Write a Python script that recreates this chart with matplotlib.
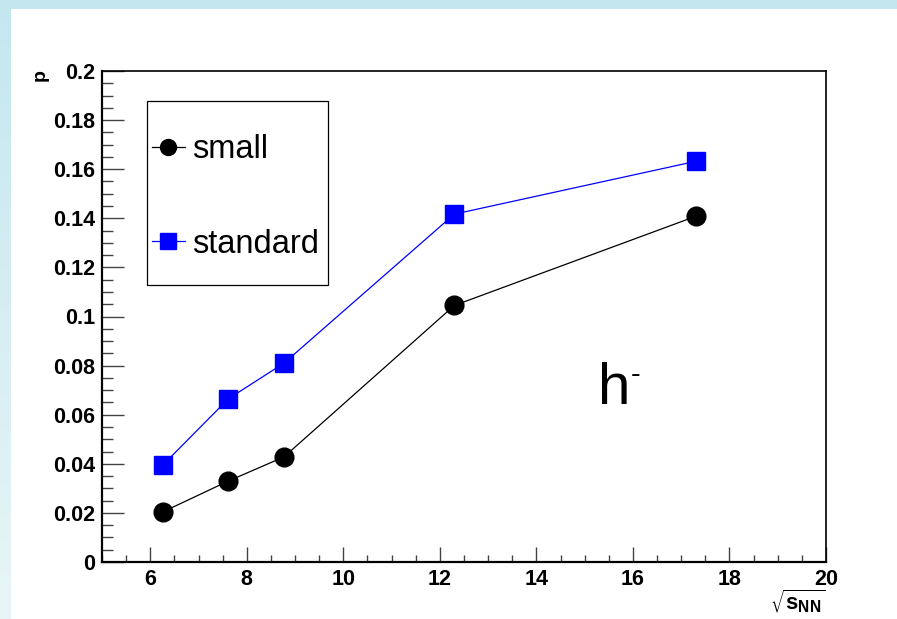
import matplotlib
matplotlib.use("Agg")
import matplotlib.pyplot as plt
import numpy as np
from matplotlib.patches import Rectangle
from matplotlib.ticker import MultipleLocator, FormatStrFormatter

# collision energies (GeV) and p for the two acceptance settings
sqrt_s = [6.27, 7.62, 8.77, 12.3, 17.3]
p_small = [0.0205, 0.0330, 0.0428, 0.1045, 0.1408]
p_standard = [0.0397, 0.0665, 0.0810, 0.1417, 0.1632]

x_ticks = [6, 8, 10, 12, 14, 16, 18, 20]
y_ticks = [0, 0.02, 0.04, 0.06, 0.08, 0.1, 0.12, 0.14, 0.16, 0.18, 0.2]

plt.rcParams['font.family'] = ['Liberation Sans', 'DejaVu Sans']

W, H = 897, 619
fig = plt.figure(figsize=(W / 100, H / 100), dpi=100)

# slide-like background: light blue gradient, white sheet on top
bg = fig.add_axes([0, 0, 1, 1], zorder=-10)
grad = np.linspace(0, 1, 256).reshape(-1, 1)
top_c = np.array([196, 231, 239]) / 255
bot_c = np.array([232, 245, 247]) / 255
img = top_c + (bot_c - top_c) * grad[..., None]
bg.imshow(img, aspect='auto', extent=[0, 1, 0, 1], origin='upper')
bg.add_patch(Rectangle((11 / W, 0), 1 - 11 / W, 1 - 9 / H,
                       facecolor='white', edgecolor='none'))
bg.set_xlim(0, 1)
bg.set_ylim(0, 1)
bg.axis('off')

ax = fig.add_axes([102 / W, 1 - 562 / H, 724 / W, 491 / H])
ax.set_facecolor('white')

ax.plot(sqrt_s, p_small, color='black', lw=0.9, marker='o', ms=13.5,
        mfc='black', mec='black', label='small')
ax.plot(sqrt_s, p_standard, color='#0000ff', lw=0.9, marker='s', ms=13,
        mfc='#0000ff', mec='#0000ff', label='standard')

ax.set_xlim(5, 20)
ax.set_ylim(0, 0.2)
ax.set_xticks(x_ticks)
ax.set_yticks(y_ticks)
ax.xaxis.set_minor_locator(MultipleLocator(0.5))
ax.yaxis.set_minor_locator(MultipleLocator(0.005))
ax.yaxis.set_major_formatter(FormatStrFormatter('%g'))

ax.tick_params(axis='both', which='both', direction='in', color='#444444',
               width=1.0, top=False, right=False)
ax.tick_params(axis='x', which='major', length=11, pad=5)
ax.tick_params(axis='x', which='minor', length=5)
ax.tick_params(axis='y', which='major', length=16, pad=5)
ax.tick_params(axis='y', which='minor', length=8)
for lab in ax.get_xticklabels() + ax.get_yticklabels():
    lab.set_fontsize(15.5)
    lab.set_fontweight('bold')

for side in ['left', 'bottom']:
    ax.spines[side].set_linewidth(1.6)
for side in ['top', 'right']:
    ax.spines[side].set_linewidth(1.2)

ax.set_ylabel('p', fontsize=14, fontweight='bold')
ax.yaxis.set_label_coords(-0.073, 0.992)
ax.set_xlabel(r'$\sqrt{\mathregular{s}_{\mathregular{NN}}}$', fontsize=16,
              fontweight='bold', ha='right')
ax.xaxis.set_label_coords(1.0, -0.052)

# particle label h with a small superscript dash
ax.text((598 - 102) / 724, (562 - 404) / 491, 'h',
        transform=ax.transAxes, fontsize=42, va='baseline', ha='left')
ax.text((631 - 102) / 724, (562 - 375) / 491, '-',
        transform=ax.transAxes, fontsize=21, va='center', ha='left')

# legend box drawn as a plain frame, entries placed inside it
ax.add_patch(Rectangle(((147 - 102) / 724, (562 - 285) / 491),
                       181 / 724, 184 / 491, transform=ax.transAxes,
                       facecolor='white', edgecolor='black', lw=0.9,
                       zorder=3))
leg = ax.legend(loc='upper left',
                bbox_to_anchor=((152 - 102) / 724, (562 - 134) / 491),
                frameon=False, fontsize=23.5, handlelength=1.0,
                handletextpad=0.22, labelspacing=1.95, borderpad=0,
                borderaxespad=0, markerscale=0.85)
leg.set_zorder(4)

fig.savefig('out.png', dpi=100)
